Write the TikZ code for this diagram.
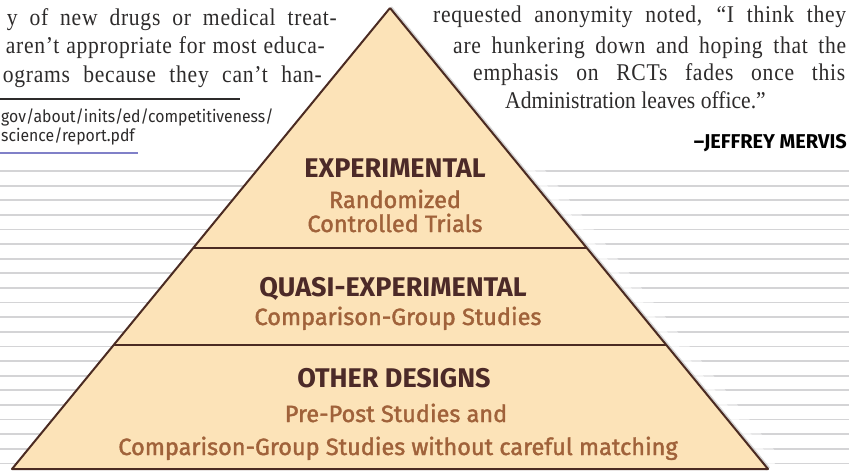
\documentclass[tikz,border=0pt]{standalone}
\usepackage{fontspec}
\setmainfont{Liberation Serif}[FakeStretch=0.9]
\setsansfont{Fira Sans}
\newfontfamily\spreadfont{Liberation Serif}[FakeStretch=0.9,LetterSpace=3]
\newfontfamily\subfont{Fira Sans}[FakeBold=1.6]
\newfontfamily\urlfont{Fira Sans}[FakeStretch=0.93]
\definecolor{pyrfill}{RGB}{252,227,184}
\definecolor{pyredge}{RGB}{75,43,34}
\definecolor{ttlcol}{RGB}{76,42,40}
\definecolor{subcol}{RGB}{160,98,58}
\definecolor{stripecol}{RGB}{212,212,214}
\definecolor{inkcol}{RGB}{45,43,43}
\definecolor{linkcol}{RGB}{128,128,200}
\tikzset{
  stripe/.style={draw=stripecol,line width=1.8pt},
  ttl/.style={font=\sffamily\bfseries\fontsize{27}{31}\selectfont,text=ttlcol},
  sub/.style={font=\subfont\fontsize{23.5}{27}\selectfont,text=subcol},
  col/.style={font=\spreadfont\fontsize{24}{29}\selectfont,text=inkcol},
  lastline/.style={font=\fontsize{24}{29}\selectfont,text=inkcol},
  url/.style={font=\urlfont\fontsize{17}{20}\selectfont,text=inkcol},
  byline/.style={font=\sffamily\bfseries\fontsize{20}{23}\selectfont,text=black}
}
\begin{document}
\begin{tikzpicture}[x=1pt,y=-1pt,every node/.style={inner sep=0pt,anchor=base}]
\clip (0,0) rectangle (849,471);
\fill[white] (0,0) rectangle (849,471);
\foreach \k in {0,...,20}
  \draw[stripe] (0,171+14.62*\k) -- (849,171+14.62*\k);

\path (390,8) coordinate(p1) (12,469) coordinate(p2) (768,469) coordinate(p3);
\path (193,248) coordinate(l1) (587,248) coordinate(r1) (113,345) coordinate(l2) (667,345) coordinate(r2);
\draw[white,line width=34pt,opacity=0.45] (p1) -- (p3);
\draw[white,line width=18pt,opacity=0.6] (p1) -- (p3);
\draw[black!45,line width=5pt,opacity=0.35,xshift=2.5pt] (p1) -- (p3);
\filldraw[fill=pyrfill,draw=pyredge,line width=2pt,line join=round] (p1) -- (p2) -- (p3) -- (p1);
\draw[pyredge,line width=2pt] (l1) -- (r1) (l2) -- (r2);

\node[ttl] (e1) at (395,177) {EXPERIMENTAL};
\node[sub] (e2) at (395,208) {Randomized};
\node[sub] (e3) at (395,232) {Controlled Trials};
\node[ttl] (q1) at (393,296) {QUASI-EXPERIMENTAL};
\node[sub] (q2) at (398,325) {Comparison-Group Studies};
\node[ttl] (o1) at (394,387) {OTHER DESIGNS};
\node[sub] (o2) at (396,422) {Pre-Post Studies and};
\node[sub] (o3) at (398,455) {Comparison-Group Studies without careful matching};

\node[col,anchor=base east] (a1) at (337,25) {\makebox[330pt][s]{y of new drugs or medical treat-}};
\node[col,anchor=base east] (a2) at (325,53) {\makebox[319pt][s]{aren’t appropriate for most educa-}};
\node[col,anchor=base east] (a3) at (322,82) {\makebox[319pt][s]{ograms because they can’t han-}};
\draw[inkcol,line width=1.5pt] (0,99) -- (240,99);
\node[url,anchor=base west] (u1) at (1,122) {gov/about/inits/ed/competitiveness/};
\node[url,anchor=base west] (u2) at (1,141) {science/report.pdf};
\draw[linkcol,line width=1.5pt] (0,153) -- (138,153);

\node[col,anchor=base west] (b1) at (433,23) {\makebox[413pt][s]{requested anonymity noted, “I think they}};
\node[col,anchor=base west] (b2) at (453,53) {\makebox[393pt][s]{are hunkering down and hoping that the}};
\node[col,anchor=base west] (b3) at (473,80) {\makebox[372pt][s]{emphasis on RCTs fades once this}};
\node[lastline,anchor=base west] (b4) at (505,108) {Administration leaves office.”};
\node[byline,anchor=base east] (j1) at (847,148) {–JEFFREY MERVIS};
\end{tikzpicture}
\end{document}
